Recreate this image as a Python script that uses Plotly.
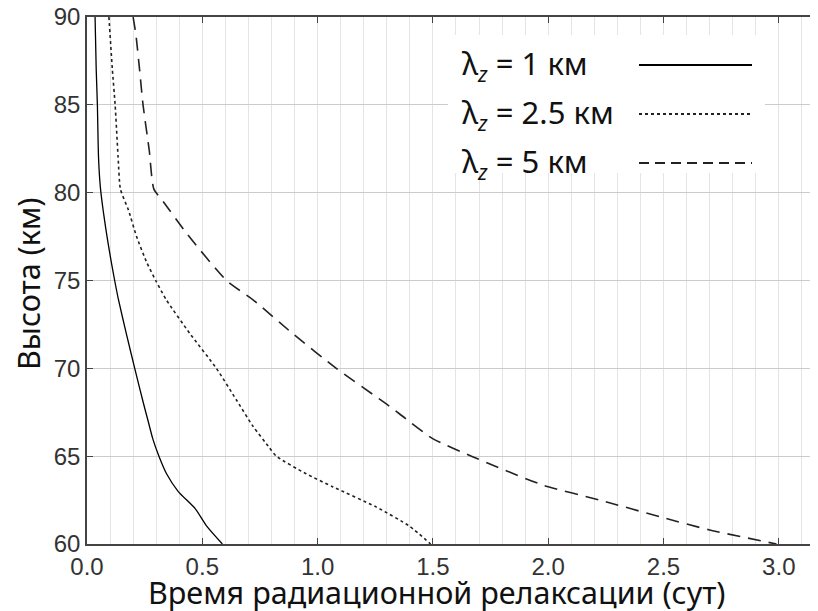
import plotly.graph_objects as go

# Altitude (km) and radiative relaxation time (days) for each vertical wavelength
alt_1 = [90, 87, 85, 82, 80.3, 79, 78, 77, 76, 75, 74, 72, 70, 68, 67, 66, 65, 64, 63, 62, 61, 60]
t_1 = [0.035, 0.04, 0.045, 0.05, 0.058, 0.07, 0.081, 0.093, 0.106, 0.12, 0.135, 0.17, 0.207, 0.245, 0.265, 0.285, 0.312, 0.345, 0.395, 0.470, 0.52, 0.587]

alt_25 = [90, 87, 85, 82, 80.2, 79, 77.5, 76, 75, 73.9, 72, 70, 68.2, 66.7, 65.5, 65, 64, 63.25, 62.1, 61, 60]
t_25 = [0.095, 0.11, 0.122, 0.135, 0.145, 0.18, 0.215, 0.26, 0.298, 0.344, 0.445, 0.561, 0.648, 0.72, 0.79, 0.821, 0.95, 1.067, 1.255, 1.40, 1.49]

alt_5 = [90, 89, 87, 85, 82.4, 80.2, 79.5, 77.7, 75, 73.9, 72, 70, 68, 67.4, 66, 65, 63.35, 62.5, 61.5, 60.8, 60]
t_5 = [0.2, 0.212, 0.228, 0.243, 0.27, 0.29, 0.33, 0.431, 0.605, 0.72, 0.89, 1.081, 1.295, 1.356, 1.499, 1.667, 1.978, 2.224, 2.498, 2.70, 2.99]

legend_labels = ["λ<sub><i>z</i></sub> = 1 км", "λ<sub><i>z</i></sub> = 2.5 км", "λ<sub><i>z</i></sub> = 5 км"]
x_title = "Время радиационной релаксации (сут)"
y_title = "Высота (км)"

# The page places the figure 8px in from the window's top-left corner
OFF = 8
W, H = 818 - OFF, 611 - OFF
L, R, T = 87 - OFF, 0, 17 - OFF
B = H - (544 - OFF)
pw, ph = W - L - R, H - T - B

def px(x):  # window pixel -> paper
    return (x - OFF - L) / pw

def py(y):
    return (H - B - (y - OFF)) / ph

fig = go.Figure()
fig.add_trace(go.Scatter(x=t_1, y=alt_1, mode="lines", line=dict(color="#000000", width=1.3, shape="spline", smoothing=0.6), showlegend=False))
fig.add_trace(go.Scatter(x=t_25, y=alt_25, mode="lines", line=dict(color="#222222", width=1.6, dash="dot", shape="spline", smoothing=0.6), showlegend=False))
fig.add_trace(go.Scatter(x=t_5, y=alt_5, mode="lines", line=dict(color="#222222", width=1.6, dash="13px,8px", shape="spline", smoothing=0.6), showlegend=False))

tick_font = dict(family="Liberation Sans, Arial, sans-serif", size=24, color="#333333")
title_font = dict(family="Noto Sans, sans-serif", size=30.5, color="#111111")

fig.update_layout(
    width=W, height=H,
    margin=dict(l=L, r=R, t=T, b=B, autoexpand=False),
    paper_bgcolor="white", plot_bgcolor="white",
    xaxis=dict(
        range=[0, 3.17], tick0=0, dtick=0.5, tickformat=".1f", automargin=False,
        ticks="inside", ticklen=6, tickcolor="#444444", mirror="ticks",
        showline=True, linecolor="#444444", linewidth=1.5, ticklabeloverflow="allow",
        showgrid=True, gridcolor="#e4e4e4", gridwidth=1,
        minor=dict(dtick=0.1, showgrid=True, gridcolor="#e4e4e4", ticks=""),
        zeroline=False, tickfont=tick_font,
    ),
    yaxis=dict(
        range=[60, 90], tick0=60, dtick=5, automargin=False,
        ticks="inside", ticklen=6, tickcolor="#444444", mirror="ticks",
        showline=True, linecolor="#444444", linewidth=1.5, ticklabeloverflow="allow",
        showgrid=True, gridcolor="#cccccc", gridwidth=1,
        zeroline=False, tickfont=tick_font,
    ),
)

# Axis titles
fig.add_annotation(xref="paper", yref="paper", x=px(437), y=py(592), text=x_title,
                   showarrow=False, xanchor="center", yanchor="middle", font=title_font)
fig.add_annotation(xref="paper", yref="paper", x=px(28), y=py(284), text=y_title, textangle=-90,
                   showarrow=False, xanchor="center", yanchor="middle", font=title_font)

# Legend box (text on the left, line sample on the right)
fig.add_shape(type="rect", xref="paper", yref="paper",
              x0=px(448), x1=px(765), y0=py(173), y1=py(35),
              fillcolor="white", line=dict(width=0), layer="above")
rows = [65, 114, 163]
styles = [dict(color="#000000", width=1.8, dash="solid"),
          dict(color="#222222", width=1.8, dash="dot"),
          dict(color="#222222", width=1.8, dash="10px,6px")]
leg_font = dict(family="Noto Sans, sans-serif", size=31, color="#111111")
for lab, yy, st in zip(legend_labels, rows, styles):
    fig.add_annotation(xref="paper", yref="paper", x=px(460), y=py(yy), text=lab,
                       showarrow=False, xanchor="left", yanchor="middle", font=leg_font)
    fig.add_shape(type="line", xref="paper", yref="paper",
                  x0=px(639), x1=px(752), y0=py(yy), y1=py(yy), line=st, layer="above")

fig.write_html("out.html")
